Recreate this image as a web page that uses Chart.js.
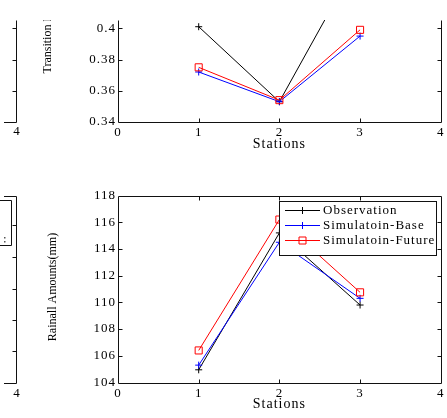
<!DOCTYPE html>
<html>
<head>
<meta charset="utf-8">
<script src="https://cdn.jsdelivr.net/npm/chart.js@4/dist/chart.umd.min.js"></script>
<style>
  html, body { margin: 0; padding: 0; background: #fff; }
  #wrap { position: relative; width: 447px; height: 418px; overflow: hidden; background: #fff; }
  canvas { position: absolute; left: 0; }
  #transition-chart { top: 0; }
  #rain-chart { top: 160px; }
</style>
</head>
<body>
<div id="wrap">
  <canvas id="transition-chart" width="447" height="160"></canvas>
  <canvas id="rain-chart" width="447" height="260"></canvas>
</div>
<script>
// Data
const stations = [1, 2, 3];
const seriesNames = ['Observation', 'Simulatoin-Base', 'Simulatoin-Future'];
const seriesColors = ['#000000', '#0000ff', '#ff0000'];
const seriesMarkers = ['cross', 'cross', 'rect'];

const transitionObs = [0.401, 0.353, 0.446];
const transitionBase = [0.372, 0.353, 0.395];
const transitionFuture = [0.375, 0.354, 0.399];

const rainObs = [104.95, 115.2, 109.8];
const rainBase = [105.3, 114.5, 110.3];
const rainFuture = [106.4, 116.2, 110.75];

const stationTicks = [0, 1, 2, 3, 4];
const transitionTicks = [0.34, 0.36, 0.38, 0.4];
const rainTicks = [104, 106, 108, 110, 112, 114, 116, 118];

const serif = '"Liberation Serif", "Times New Roman", serif';
const axisColor = '#111';

// Build datasets
function makeDatasets(series) {
  return series.map((vals, i) => ({
    label: seriesNames[i],
    data: stations.map((s, j) => ({ x: s, y: vals[j] })),
    borderColor: seriesColors[i],
    borderWidth: 1,
    pointStyle: seriesMarkers[i],
    pointRadius: seriesMarkers[i] === 'rect' ? 5 : 3.5,
    pointBorderColor: seriesColors[i],
    pointBackgroundColor: 'rgba(0,0,0,0)',
    pointBorderWidth: 1,
    tension: 0,
    order: 2 - i,
  }));
}

function stationAxis(height) {
  return {
    type: 'linear',
    min: 0,
    max: 4,
    afterBuildTicks: s => { s.ticks = stationTicks.map(v => ({ value: v })); },
    afterFit: s => { s.height = height; },
    grid: { display: false, drawTicks: false, tickLength: 0 },
    border: { display: false },
    ticks: { color: '#000', font: { family: serif, size: 13 }, padding: 3, maxRotation: 0, autoSkip: false },
    title: {
      display: true,
      text: 'Stations',
      color: '#000',
      font: { family: serif, size: 14 },
      padding: { top: 0, bottom: 7 },
    },
  };
}

function valueAxis(min, max, ticks) {
  return {
    type: 'linear',
    min: min,
    max: max,
    afterBuildTicks: s => { s.ticks = ticks.map(v => ({ value: v })); },
    afterFit: s => { s.width = 118; },
    grid: { display: false, drawTicks: false, tickLength: 0 },
    border: { display: false },
    ticks: {
      color: '#000',
      font: { family: serif, size: 13 },
      padding: 2,
      callback: v => String(+v.toFixed(2)),
    },
  };
}

function drawMarker(ctx, style, x, y) {
  ctx.beginPath();
  if (style === 'rect') {
    ctx.rect(x - 3.5, y - 3.5, 7, 7);
  } else {
    ctx.moveTo(x - 3.5, y); ctx.lineTo(x + 3.5, y);
    ctx.moveTo(x, y - 3.5); ctx.lineTo(x, y + 3.5);
  }
  ctx.stroke();
}

// MATLAB style frame: box, inward ticks, y title, legend, neighbour panel pieces
const frame = {
  id: 'frame',
  beforeDraw(chart) {
    chart.ctx.letterSpacing = '1px';
  },
  afterDraw(chart, args, opts) {
    const { ctx, chartArea: a, scales: { x, y } } = chart;
    const L = Math.round(a.left) + 0.5;
    const R = Math.round(a.right) + 0.5;
    const T = Math.round(a.top) + 0.5;
    const B = Math.round(a.bottom) + 0.5;

    ctx.save();
    ctx.strokeStyle = axisColor;
    ctx.lineWidth = 1;
    ctx.beginPath();
    if (opts.topBorder) {
      ctx.moveTo(R, T); ctx.lineTo(L, T);
    } else {
      ctx.moveTo(L, T);
    }
    ctx.lineTo(L, B); ctx.lineTo(R, B); ctx.lineTo(R, T);
    x.ticks.forEach(t => {
      if (t.value === x.min || t.value === x.max) return;
      const px = Math.round(x.getPixelForValue(t.value)) + 0.5;
      ctx.moveTo(px, B); ctx.lineTo(px, B - 4);
      if (opts.topBorder) { ctx.moveTo(px, T); ctx.lineTo(px, T + 4); }
    });
    y.ticks.forEach(t => {
      if (t.value === y.min || t.value === y.max) return;
      const py = Math.round(y.getPixelForValue(t.value)) + 0.5;
      ctx.moveTo(L, py); ctx.lineTo(L + 4, py);
      ctx.moveTo(R, py); ctx.lineTo(R - 4, py);
    });
    ctx.stroke();

    // pieces of the neighbouring subplot on the left
    if (opts.fragment) opts.fragment(ctx, chart, { L, R, T, B });

    // y axis title
    if (opts.yTitle) {
      const yt = opts.yTitle;
      ctx.save();
      ctx.beginPath();
      ctx.rect(0, a.top, chart.width, chart.height);
      ctx.clip();
      ctx.letterSpacing = '0px';
      ctx.fillStyle = '#000';
      ctx.font = '12px ' + serif;
      ctx.translate(yt.x, yt.y);
      ctx.rotate(-Math.PI / 2);
      ctx.textAlign = yt.align;
      ctx.textBaseline = 'middle';
      ctx.fillText(yt.text, 0, 0);
      ctx.restore();
    }

    // legend box
    if (opts.legend) {
      const w = 157, h = 54;
      const bx = R - 5 - w;
      const by = T + 5;
      ctx.fillStyle = '#fff';
      ctx.fillRect(bx, by, w, h);
      ctx.strokeStyle = axisColor;
      ctx.strokeRect(bx, by, w, h);
      ctx.font = '13px ' + serif;
      ctx.letterSpacing = '1px';
      ctx.textAlign = 'left';
      ctx.textBaseline = 'middle';
      chart.data.datasets.forEach((ds, i) => {
        const ry = Math.round(by + 8 + i * 15.3) + 0.5;
        ctx.strokeStyle = ds.borderColor;
        ctx.beginPath();
        ctx.moveTo(bx + 5.5, ry); ctx.lineTo(bx + 40.5, ry);
        ctx.stroke();
        drawMarker(ctx, ds.pointStyle, bx + 23, ry);
        ctx.fillStyle = '#000';
        ctx.fillText(ds.label, bx + 43.5, ry);
      });
    }
    ctx.restore();
  },
};

function drawTransitionFragment(ctx, chart, box) {
  const y = chart.scales.y;
  ctx.strokeStyle = axisColor;
  ctx.beginPath();
  ctx.moveTo(16.5, box.T); ctx.lineTo(16.5, box.B); ctx.lineTo(4, box.B);
  [0.36, 0.38, 0.4].forEach(v => {
    const py = Math.round(y.getPixelForValue(v)) + 0.5;
    ctx.moveTo(16.5, py); ctx.lineTo(12.5, py);
  });
  ctx.stroke();
  ctx.fillStyle = '#000';
  ctx.font = '13px ' + serif;
  ctx.letterSpacing = '0px';
  ctx.textAlign = 'center';
  ctx.textBaseline = 'middle';
  ctx.fillText('4', 16.5, box.B + 9.5);
}

function drawRainFragment(ctx, chart, box) {
  ctx.strokeStyle = axisColor;
  ctx.beginPath();
  ctx.moveTo(4, box.T); ctx.lineTo(16.5, box.T); ctx.lineTo(16.5, box.B); ctx.lineTo(4, box.B);
  [65, 97, 129, 160, 191].forEach(py => {
    ctx.moveTo(16.5, py + 0.5); ctx.lineTo(12.5, py + 0.5);
  });
  ctx.moveTo(0, 40.5); ctx.lineTo(11.5, 40.5); ctx.lineTo(11.5, 85.5); ctx.lineTo(0, 85.5);
  ctx.stroke();
  ctx.fillStyle = '#555';
  ctx.fillRect(4, 77, 1.5, 1.5);
  ctx.fillRect(4, 81, 1.5, 1.5);
  ctx.fillStyle = '#000';
  ctx.font = '13px ' + serif;
  ctx.letterSpacing = '0px';
  ctx.textAlign = 'center';
  ctx.textBaseline = 'middle';
  ctx.fillText('4', 16.5, box.B + 10);
}

function makeChart(canvas, series, yAxis, xHeight, padTop, frameOpts) {
  return new Chart(canvas, {
    type: 'line',
    data: { datasets: makeDatasets(series) },
    options: {
      responsive: false,
      animation: false,
      events: [],
      devicePixelRatio: 1,
      layout: { padding: { left: 0, right: 6, top: padTop, bottom: 0 } },
      scales: { x: stationAxis(xHeight), y: yAxis },
      plugins: {
        legend: { display: false },
        tooltip: { enabled: false },
        frame: frameOpts,
      },
    },
    plugins: [frame],
  });
}

// Transition chart (top)
makeChart(
  document.getElementById('transition-chart'),
  [transitionObs, transitionBase, transitionFuture],
  valueAxis(0.34, 0.4053, transitionTicks),
  38, 20,
  {
    topBorder: false,
    yTitle: { text: 'Transition Probability', x: 47.5, y: 73.5, align: 'left' },
    fragment: drawTransitionFragment,
  }
);

// Rainfall chart (bottom)
makeChart(
  document.getElementById('rain-chart'),
  [rainObs, rainBase, rainFuture],
  valueAxis(104, 118, rainTicks),
  37.5, 35.5,
  {
    topBorder: true,
    legend: true,
    yTitle: { text: 'Rainall Amounts(mm)', x: 52.5, y: 127, align: 'center' },
    fragment: drawRainFragment,
  }
);
</script>
</body>
</html>
